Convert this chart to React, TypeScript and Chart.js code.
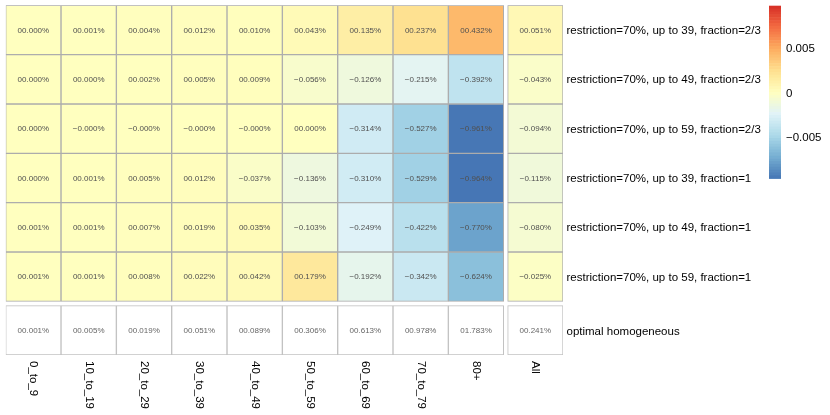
import React, { useEffect, useRef } from "react";
import { Chart, registerables } from "chart.js";

Chart.register(...registerables);

const COLUMNS = ["0_to_9", "10_to_19", "20_to_29", "30_to_39", "40_to_49", "50_to_59", "60_to_69", "70_to_79", "80+", "All"];

const ROW_LABELS = [
  "restriction=70%, up to 39, fraction=2/3",
  "restriction=70%, up to 49, fraction=2/3",
  "restriction=70%, up to 59, fraction=2/3",
  "restriction=70%, up to 39, fraction=1",
  "restriction=70%, up to 49, fraction=1",
  "restriction=70%, up to 59, fraction=1",
  "optimal homogeneous",
];

// values in percent
const R39_23 = [0.0, 0.001, 0.004, 0.012, 0.01, 0.043, 0.135, 0.237, 0.432, 0.051];
const R49_23 = [0.0, 0.0, 0.002, 0.005, 0.009, -0.056, -0.126, -0.215, -0.392, -0.043];
const R59_23 = [0.0, -0.0001, -0.0001, -0.0001, -0.0001, 0.0, -0.314, -0.527, -0.961, -0.094];
const R39_1 = [0.0, 0.001, 0.005, 0.012, -0.037, -0.136, -0.31, -0.529, -0.964, -0.115];
const R49_1 = [0.001, 0.001, 0.007, 0.019, 0.035, -0.103, -0.249, -0.422, -0.77, -0.08];
const R59_1 = [0.001, 0.001, 0.008, 0.022, 0.042, 0.179, -0.192, -0.342, -0.624, -0.025];
const OPTIMAL = [0.001, 0.005, 0.019, 0.051, 0.089, 0.306, 0.613, 0.978, 1.783, 0.241];

const ROW_VALUES = [R39_23, R49_23, R59_23, R39_1, R49_1, R59_1, OPTIMAL];

const LEGEND_TICKS = [0.005, 0, -0.005];
const LEGEND_MAX = 0.00975;
const LEGEND_MIN = -0.00964;
const COLOR_LIMIT = 0.97; // percent

const PALETTE = ["#4575b4", "#74add1", "#abd9e9", "#e0f3f8", "#ffffbf", "#fee090", "#fdae61", "#f46d43", "#d73027"];

const GAP_X = 0.072;
const GAP_Y = 0.088;

function hexToRgb(h: string) {
  return [parseInt(h.slice(1, 3), 16), parseInt(h.slice(3, 5), 16), parseInt(h.slice(5, 7), 16)];
}

function colorFor(vPct: number) {
  let t = vPct / COLOR_LIMIT;
  t = Math.max(-1, Math.min(1, t));
  const pos = ((t + 1) / 2) * (PALETTE.length - 1);
  const i = Math.min(PALETTE.length - 2, Math.floor(pos));
  const f = pos - i;
  const a = hexToRgb(PALETTE[i]);
  const b = hexToRgb(PALETTE[i + 1]);
  const c = a.map((x, k) => Math.round(x + (b[k] - x) * f));
  return `rgb(${c[0]},${c[1]},${c[2]})`;
}

function fmt(v: number) {
  const s = Math.abs(v).toFixed(3) + "%";
  return v < 0 ? "\u2212" + s : "0" + s;
}

function colCenter(i: number) {
  return i < 9 ? i + 0.5 : i + GAP_X + 0.5;
}
function rowStart(r: number) {
  return r < 6 ? r : r + GAP_Y;
}

const FONT = "'Liberation Sans', Arial, Helvetica, sans-serif";

const textPlugin = {
  id: "heatText",
  afterDatasetsDraw(chart: any) {
    const ctx = chart.ctx;
    const xs = chart.scales.x;
    const ys = chart.scales.y;
    ctx.save();
    // cell texts
    ctx.font = `8px ${FONT}`;
    ctx.textAlign = "center";
    ctx.textBaseline = "middle";
    chart.data.datasets.forEach((ds: any, di: number) => {
      const meta = chart.getDatasetMeta(di);
      ctx.fillStyle = di === 6 ? "#666666" : "#505050";
      meta.data.forEach((el: any, j: number) => {
        const v = ROW_VALUES[di][j];
        ctx.fillText(fmt(v), el.x, (el.y + el.base) / 2 + 0.5);
      });
    });
    // row labels
    ctx.font = `11.5px ${FONT}`;
    ctx.fillStyle = "#000000";
    ctx.textAlign = "left";
    const rightX = xs.getPixelForValue(xs.max) + 3.5;
    ROW_LABELS.forEach((lab, r) => {
      const y = ys.getPixelForValue(rowStart(r) + 0.5);
      ctx.fillText(lab, rightX, y + 1);
    });
    // column labels (rotated clockwise)
    const bottomY = ys.getPixelForValue(ys.max) + 6;
    COLUMNS.forEach((lab, i) => {
      const x = xs.getPixelForValue(colCenter(i));
      ctx.save();
      ctx.translate(x, bottomY);
      ctx.rotate(Math.PI / 2);
      ctx.textAlign = "left";
      ctx.textBaseline = "middle";
      ctx.fillText(lab, 0, 0);
      ctx.restore();
    });
    // color legend
    const lx = 769;
    const lw = 12;
    const ly0 = 5.7;
    const ly1 = 178.3;
    const vToY = (v: number) => ly0 + ((LEGEND_MAX - v) / (LEGEND_MAX - LEGEND_MIN)) * (ly1 - ly0);
    const steps = 60;
    for (let k = 0; k < steps; k++) {
      const y0 = ly0 + ((ly1 - ly0) * k) / steps;
      const y1 = ly0 + ((ly1 - ly0) * (k + 1)) / steps;
      const vMid = LEGEND_MAX - ((k + 0.5) / steps) * (LEGEND_MAX - LEGEND_MIN);
      ctx.fillStyle = colorFor(vMid * 100);
      ctx.fillRect(lx, y0, lw, y1 - y0 + 0.6);
    }
    ctx.fillStyle = "#000000";
    ctx.font = `11.5px ${FONT}`;
    ctx.textAlign = "left";
    ctx.textBaseline = "middle";
    LEGEND_TICKS.forEach((t) => {
      const label = t === 0 ? "0" : t < 0 ? "\u2212" + Math.abs(t).toString() : t.toString();
      ctx.fillText(label, lx + lw + 5, vToY(t) + 1);
    });
    ctx.restore();
  },
};

export default function App() {
  const ref = useRef<HTMLCanvasElement>(null);
  useEffect(() => {
    if (!ref.current) return;
    const datasets = ROW_VALUES.map((vals, r) => ({
      label: ROW_LABELS[r],
      data: vals.map((_, i) => ({ x: colCenter(i), y: [rowStart(r), rowStart(r) + 1] })),
      backgroundColor: vals.map((v) => (r === 6 ? "#ffffff" : colorFor(v))),
      borderColor: r === 6 ? "#c2c2c2" : "#adadad",
      borderWidth: 1,
      borderSkipped: false,
      grouped: false,
      barPercentage: 1,
      categoryPercentage: 1,
    }));
    const chart = new Chart(ref.current, {
      type: "bar",
      data: { datasets } as any,
      options: {
        animation: false,
        responsive: false,
        layout: { padding: { left: 5.7, top: 5.3, right: 267, bottom: 60 } },
        plugins: { legend: { display: false }, tooltip: { enabled: false } },
        scales: {
          x: {
            type: "linear",
            min: 0,
            max: 10 + GAP_X,
            offset: false,
            display: false,
            afterBuildTicks: (axis: any) => {
              axis.ticks = [{ value: 0 }];
            },
          },
          y: {
            type: "linear",
            min: 0,
            max: 7 + GAP_Y,
            reverse: true,
            offset: false,
            display: false,
          },
        },
      } as any,
      plugins: [textPlugin],
    });
    return () => chart.destroy();
  }, []);
  return (
    <div style={{ position: "fixed", left: 0, top: 0, width: 830, height: 415, background: "#ffffff" }}>
      <canvas ref={ref} width={830} height={415} style={{ display: "block" }} />
    </div>
  );
}
